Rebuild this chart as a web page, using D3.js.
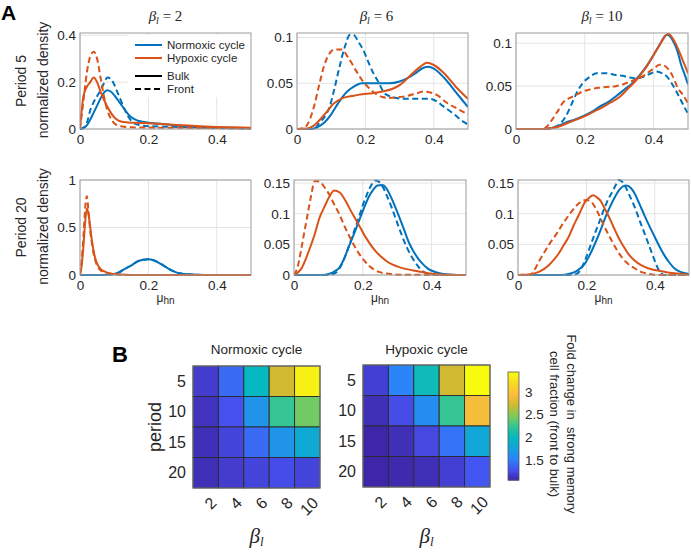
<!DOCTYPE html>
<html><head><meta charset="utf-8">
<script src="https://cdn.jsdelivr.net/npm/d3@7"></script>
<style>body{margin:0;background:#fff}svg{display:block}</style>
</head><body><svg id="c" width="691" height="554"></svg>
<script>
// ---------------- DATA ----------------
const betaTitles = ["2", "6", "10"];
const periodLabels = ["Period 5", "Period 20"];
const xTicks = [0, 0.2, 0.4];
const xMax = 0.5;
const yLimTop = [0.41, 0.105, 0.112];
const yLimBottom = [1.0, 0.155, 0.155];
const yTicksTop = [[0, 0.2, 0.4], [0, 0.05, 0.1], [0, 0.05, 0.1]];
const yTicksBottom = [[0, 0.5, 1], [0, 0.05, 0.1, 0.15], [0, 0.05, 0.1, 0.15]];
const legendLabels = ["Normoxic cycle", "Hypoxic cycle", "Bulk", "Front"];

// Period 5, beta 2  (nb = normoxic bulk, nf = normoxic front, hb = hypoxic bulk, hf = hypoxic front)
const nbP5B2 = [[0,0],[0.01,0.004],[0.02,0.015],[0.03,0.04],[0.04,0.07],[0.05,0.1],[0.06,0.13],[0.07,0.155],[0.08,0.166],[0.09,0.16],[0.1,0.145],[0.11,0.125],[0.12,0.105],[0.13,0.085],[0.14,0.065],[0.15,0.05],[0.17,0.035],[0.2,0.027],[0.25,0.02],[0.3,0.013],[0.35,0.009],[0.4,0.006],[0.45,0.004],[0.5,0.003]];
const nfP5B2 = [[0,0],[0.01,0.005],[0.02,0.025],[0.03,0.08],[0.04,0.115],[0.05,0.14],[0.06,0.165],[0.07,0.195],[0.08,0.22],[0.09,0.215],[0.1,0.19],[0.11,0.155],[0.12,0.12],[0.13,0.085],[0.14,0.055],[0.15,0.035],[0.17,0.018],[0.2,0.012],[0.25,0.01],[0.3,0.008],[0.35,0.006],[0.4,0.004],[0.45,0.003],[0.5,0.002]];
const hbP5B2 = [[0,0],[0.005,0.08],[0.01,0.14],[0.02,0.18],[0.03,0.2],[0.04,0.22],[0.05,0.2],[0.06,0.16],[0.07,0.125],[0.08,0.095],[0.09,0.07],[0.1,0.05],[0.11,0.038],[0.12,0.032],[0.14,0.028],[0.17,0.026],[0.2,0.025],[0.25,0.02],[0.3,0.016],[0.35,0.012],[0.4,0.009],[0.45,0.007],[0.5,0.005]];
const hfP5B2 = [[0,0],[0.01,0.12],[0.02,0.24],[0.03,0.31],[0.04,0.33],[0.05,0.3],[0.06,0.22],[0.07,0.14],[0.08,0.08],[0.09,0.045],[0.1,0.025],[0.12,0.012],[0.15,0.007],[0.2,0.006],[0.3,0.005],[0.4,0.004],[0.5,0.003]];

// Period 5, beta 6
const nbP5B6 = [[0,0],[0.04,0],[0.06,0.002],[0.08,0.007],[0.1,0.016],[0.12,0.028],[0.135,0.036],[0.15,0.042],[0.165,0.046],[0.19,0.05],[0.22,0.05],[0.25,0.05],[0.27,0.05],[0.3,0.052],[0.33,0.057],[0.35,0.062],[0.37,0.067],[0.385,0.068],[0.4,0.066],[0.43,0.056],[0.465,0.04],[0.5,0.024]];
const nfP5B6 = [[0,0],[0.05,0],[0.066,0.007],[0.08,0.013],[0.096,0.025],[0.11,0.045],[0.125,0.069],[0.14,0.09],[0.155,0.103],[0.165,0.103],[0.18,0.095],[0.193,0.087],[0.21,0.072],[0.222,0.062],[0.24,0.05],[0.252,0.041],[0.27,0.036],[0.29,0.034],[0.32,0.033],[0.35,0.033],[0.39,0.033],[0.41,0.03],[0.427,0.025],[0.46,0.016],[0.486,0.008],[0.5,0.005]];
const hbP5B6 = [[0,0],[0.03,0.0005],[0.05,0.004],[0.076,0.014],[0.09,0.02],[0.105,0.027],[0.12,0.031],[0.135,0.034],[0.16,0.036],[0.19,0.038],[0.22,0.039],[0.25,0.041],[0.28,0.044],[0.3,0.048],[0.33,0.058],[0.36,0.068],[0.38,0.0725],[0.4,0.07],[0.43,0.061],[0.465,0.046],[0.5,0.033]];
const hfP5B6 = [[0,0],[0.02,0.001],[0.037,0.01],[0.05,0.025],[0.066,0.05],[0.08,0.07],[0.096,0.083],[0.11,0.087],[0.13,0.087],[0.15,0.078],[0.174,0.063],[0.193,0.052],[0.21,0.045],[0.232,0.038],[0.25,0.035],[0.27,0.034],[0.3,0.035],[0.32,0.036],[0.35,0.039],[0.37,0.041],[0.39,0.04],[0.41,0.037],[0.437,0.029],[0.47,0.022],[0.5,0.016]];

// Period 5, beta 10
const nbP5B10 = [[0,0],[0.07,0],[0.1,0.001],[0.125,0.004],[0.147,0.008],[0.17,0.011],[0.195,0.015],[0.22,0.02],[0.243,0.026],[0.27,0.032],[0.29,0.038],[0.315,0.046],[0.34,0.054],[0.36,0.063],[0.379,0.073],[0.395,0.083],[0.408,0.092],[0.42,0.1],[0.432,0.108],[0.44,0.11],[0.45,0.107],[0.46,0.1],[0.47,0.09],[0.48,0.075],[0.49,0.064],[0.5,0.052]];
const nfP5B10 = [[0,0],[0.09,0],[0.11,0.002],[0.128,0.006],[0.145,0.015],[0.166,0.033],[0.18,0.045],[0.195,0.054],[0.215,0.061],[0.234,0.065],[0.263,0.065],[0.29,0.063],[0.31,0.062],[0.33,0.06],[0.35,0.059],[0.37,0.061],[0.388,0.064],[0.408,0.067],[0.425,0.065],[0.437,0.062],[0.45,0.055],[0.466,0.044],[0.48,0.033],[0.49,0.025],[0.5,0.018]];
const hbP5B10 = [[0,0],[0.07,0],[0.1,0.001],[0.125,0.003],[0.15,0.007],[0.175,0.011],[0.2,0.015],[0.225,0.02],[0.25,0.025],[0.275,0.031],[0.3,0.037],[0.325,0.047],[0.35,0.057],[0.365,0.065],[0.38,0.073],[0.395,0.083],[0.41,0.093],[0.425,0.103],[0.435,0.109],[0.443,0.111],[0.455,0.106],[0.465,0.099],[0.48,0.085],[0.49,0.075],[0.5,0.065]];
const hfP5B10 = [[0,0],[0.08,0],[0.09,0.003],[0.1,0.008],[0.12,0.02],[0.137,0.031],[0.155,0.036],[0.176,0.04],[0.195,0.044],[0.214,0.046],[0.24,0.048],[0.263,0.049],[0.29,0.05],[0.31,0.052],[0.33,0.055],[0.35,0.058],[0.37,0.062],[0.388,0.067],[0.405,0.072],[0.417,0.075],[0.43,0.074],[0.44,0.071],[0.455,0.062],[0.47,0.048],[0.485,0.04],[0.5,0.03]];

// Period 20, beta 2
const nbP20B2 = [[0,0],[0.05,0],[0.08,0.002],[0.1,0.01],[0.115,0.03],[0.13,0.063],[0.15,0.1],[0.169,0.145],[0.185,0.16],[0.2,0.165],[0.215,0.155],[0.237,0.115],[0.255,0.075],[0.276,0.035],[0.29,0.018],[0.305,0.01],[0.33,0.004],[0.36,0.001],[0.4,0],[0.5,0]];
const nfP20B2 = [[0,0],[0.05,0],[0.08,0.002],[0.1,0.01],[0.115,0.03],[0.13,0.062],[0.15,0.1],[0.169,0.144],[0.185,0.16],[0.2,0.165],[0.215,0.155],[0.237,0.116],[0.255,0.074],[0.276,0.035],[0.29,0.018],[0.305,0.01],[0.33,0.004],[0.36,0.001],[0.4,0],[0.5,0]];
const hbP20B2 = [[0,0],[0.005,0.1],[0.01,0.3],[0.015,0.55],[0.02,0.7],[0.025,0.64],[0.03,0.5],[0.035,0.36],[0.04,0.25],[0.045,0.17],[0.05,0.12],[0.06,0.065],[0.07,0.04],[0.08,0.025],[0.1,0.01],[0.12,0.004],[0.15,0.001],[0.2,0],[0.5,0]];
const hfP20B2 = [[0,0],[0.005,0.15],[0.01,0.4],[0.015,0.7],[0.02,0.83],[0.025,0.66],[0.03,0.46],[0.035,0.33],[0.04,0.22],[0.045,0.15],[0.05,0.1],[0.06,0.05],[0.07,0.03],[0.08,0.02],[0.1,0.006],[0.12,0.002],[0.15,0],[0.5,0]];

// Period 20, beta 6
const nbP20B6 = [[0,0],[0.08,0],[0.103,0.002],[0.118,0.006],[0.132,0.012],[0.146,0.027],[0.16,0.047],[0.175,0.068],[0.19,0.09],[0.204,0.11],[0.218,0.128],[0.23,0.139],[0.242,0.146],[0.257,0.147],[0.268,0.142],[0.276,0.134],[0.29,0.117],[0.305,0.096],[0.32,0.074],[0.334,0.053],[0.348,0.038],[0.362,0.026],[0.376,0.017],[0.39,0.01],[0.41,0.005],[0.43,0.002],[0.46,0.0005],[0.5,0]];
const nfP20B6 = [[0,0],[0.1,0],[0.122,0.004],[0.141,0.02],[0.155,0.04],[0.17,0.064],[0.185,0.088],[0.199,0.112],[0.211,0.13],[0.223,0.145],[0.237,0.154],[0.247,0.152],[0.257,0.145],[0.271,0.128],[0.286,0.107],[0.3,0.085],[0.314,0.064],[0.328,0.045],[0.343,0.029],[0.357,0.017],[0.372,0.007],[0.39,0.002],[0.42,0],[0.5,0]];
const hbP20B6 = [[0,0],[0.021,0.01],[0.045,0.042],[0.06,0.066],[0.074,0.093],[0.09,0.113],[0.103,0.128],[0.117,0.138],[0.132,0.135],[0.151,0.12],[0.165,0.105],[0.18,0.09],[0.195,0.075],[0.209,0.061],[0.237,0.039],[0.255,0.029],[0.276,0.02],[0.3,0.014],[0.324,0.01],[0.36,0.006],[0.39,0.003],[0.43,0.001],[0.5,0]];
const hfP20B6 = [[0,0],[0.01,0.012],[0.021,0.042],[0.03,0.07],[0.04,0.1],[0.05,0.13],[0.06,0.153],[0.07,0.153],[0.079,0.15],[0.09,0.142],[0.103,0.131],[0.117,0.115],[0.132,0.099],[0.145,0.082],[0.16,0.064],[0.175,0.048],[0.19,0.034],[0.205,0.023],[0.218,0.015],[0.232,0.009],[0.247,0.005],[0.276,0.002],[0.31,0.0005],[0.5,0]];

// Period 20, beta 10
const nbP20B10 = [[0,0],[0.128,0],[0.15,0.002],[0.167,0.005],[0.18,0.01],[0.196,0.019],[0.21,0.033],[0.225,0.051],[0.24,0.071],[0.254,0.092],[0.268,0.11],[0.283,0.127],[0.295,0.138],[0.305,0.144],[0.317,0.146],[0.33,0.142],[0.341,0.133],[0.355,0.116],[0.37,0.097],[0.385,0.079],[0.4,0.062],[0.414,0.046],[0.428,0.032],[0.443,0.02],[0.457,0.011],[0.475,0.005],[0.496,0.002],[0.5,0.001]];
const nfP20B10 = [[0,0],[0.16,0],[0.175,0.003],[0.185,0.01],[0.196,0.024],[0.21,0.045],[0.225,0.068],[0.24,0.09],[0.254,0.111],[0.266,0.126],[0.278,0.138],[0.287,0.148],[0.295,0.155],[0.305,0.152],[0.312,0.146],[0.326,0.13],[0.341,0.111],[0.355,0.09],[0.37,0.068],[0.382,0.05],[0.394,0.032],[0.405,0.016],[0.418,0.003],[0.43,0],[0.5,0]];
const hbP20B10 = [[0,0],[0.032,0.001],[0.061,0.005],[0.09,0.016],[0.105,0.025],[0.119,0.035],[0.133,0.048],[0.148,0.062],[0.162,0.08],[0.177,0.097],[0.196,0.119],[0.208,0.126],[0.22,0.13],[0.23,0.127],[0.24,0.122],[0.252,0.11],[0.264,0.097],[0.278,0.08],[0.293,0.062],[0.307,0.048],[0.322,0.035],[0.34,0.024],[0.36,0.016],[0.38,0.011],[0.4,0.008],[0.43,0.005],[0.457,0.003],[0.5,0.001]];
const hfP20B10 = [[0,0],[0.037,0.001],[0.05,0.01],[0.061,0.022],[0.075,0.035],[0.09,0.049],[0.11,0.065],[0.128,0.081],[0.148,0.097],[0.167,0.111],[0.18,0.118],[0.191,0.122],[0.203,0.122],[0.215,0.119],[0.23,0.106],[0.244,0.089],[0.258,0.073],[0.273,0.057],[0.288,0.042],[0.302,0.03],[0.32,0.019],[0.341,0.011],[0.36,0.005],[0.38,0.002],[0.41,0],[0.5,0]];

// Heatmaps (fold change, rows = period, cols = beta)
const hmPeriods = [5, 10, 15, 20];
const hmBetas = [2, 4, 6, 8, 10];
const normoxicFold = [
  [1.18, 1.42, 2.01, 2.73, 3.37],
  [1.13, 1.30, 1.66, 2.25, 2.44],
  [1.11, 1.23, 1.42, 1.66, 1.85],
  [1.11, 1.18, 1.23, 1.27, 1.23]];
const hypoxicFold = [
  [1.20, 1.54, 2.06, 2.73, 3.44],
  [1.11, 1.27, 1.61, 2.25, 2.92],
  [1.06, 1.11, 1.25, 1.46, 1.82],
  [1.06, 1.08, 1.11, 1.20, 1.32]];
const cbTicks = [1.5, 2, 2.5, 3];

// ---------------- DRAW ----------------
const SANS = '"Liberation Sans", Arial, Helvetica, sans-serif';
const SERIF = '"Liberation Serif", "Times New Roman", serif';
const BLUE = "#0072BD", ORANGE = "#D95319", TXT = "#262626";
const svg = d3.select("#c");
svg.append("rect").attr("width", 691).attr("height", 554).attr("fill", "#fff");

const colBoxes = [[[80,251],[297,468],[516,688]], [[80,251],[294,466],[518,689]]];
const rowBoxes = [[33,129],[180,275]];
const seriesStyle = [
  {c: BLUE, dash: null}, {c: BLUE, dash: "6,3.5"},
  {c: ORANGE, dash: null}, {c: ORANGE, dash: "6,3.5"}];

const panels = [
  {row:0, col:0, yMax:yLimTop[0], yTicks:yTicksTop[0], series:[nbP5B2, nfP5B2, hbP5B2, hfP5B2]},
  {row:0, col:1, yMax:yLimTop[1], yTicks:yTicksTop[1], series:[nbP5B6, nfP5B6, hbP5B6, hfP5B6]},
  {row:0, col:2, yMax:yLimTop[2], yTicks:yTicksTop[2], series:[nbP5B10, nfP5B10, hbP5B10, hfP5B10]},
  {row:1, col:0, yMax:yLimBottom[0], yTicks:yTicksBottom[0], series:[nbP20B2, nfP20B2, hbP20B2, hfP20B2]},
  {row:1, col:1, yMax:yLimBottom[1], yTicks:yTicksBottom[1], series:[nbP20B6, nfP20B6, hbP20B6, hfP20B6]},
  {row:1, col:2, yMax:yLimBottom[2], yTicks:yTicksBottom[2], series:[nbP20B10, nfP20B10, hbP20B10, hfP20B10]}];

const fmt = d => String(d);

panels.forEach((p, i) => {
  const [x0, x1] = colBoxes[p.row][p.col];
  const [y0, y1] = rowBoxes[p.row];
  const x = d3.scaleLinear().domain([0, xMax]).range([x0, x1]);
  const y = d3.scaleLinear().domain([0, p.yMax]).range([y1, y0]);
  const g = svg.append("g");
  g.selectAll(null).data(xTicks).join("line")
    .attr("x1", d => x(d)).attr("x2", d => x(d)).attr("y1", y0).attr("y2", y1)
    .attr("stroke", "#e4e4e4").attr("stroke-width", 1);
  g.selectAll(null).data(p.yTicks).join("line")
    .attr("x1", x0).attr("x2", x1).attr("y1", d => y(d)).attr("y2", d => y(d))
    .attr("stroke", "#e4e4e4").attr("stroke-width", 1);

  const cid = "clip" + i;
  svg.append("clipPath").attr("id", cid).append("rect")
    .attr("x", x0).attr("y", y0 - 1).attr("width", x1 - x0).attr("height", y1 - y0 + 2);

  const line = d3.line().x(d => x(d[0])).y(d => y(d[1])).curve(d3.curveMonotoneX);
  const lg = g.append("g").attr("clip-path", `url(#${cid})`);
  p.series.forEach((s, k) => {
    lg.append("path").attr("d", line(s)).attr("fill", "none")
      .attr("stroke", seriesStyle[k].c).attr("stroke-width", 2)
      .attr("stroke-dasharray", seriesStyle[k].dash)
      .attr("stroke-linejoin", "round");
  });

  g.append("rect").attr("x", x0).attr("y", y0).attr("width", x1 - x0).attr("height", y1 - y0)
    .attr("fill", "none").attr("stroke", "#9c9c9c").attr("stroke-width", 1);

  const ax = g.append("g").attr("transform", `translate(0,${y1})`)
    .call(d3.axisBottom(x).tickValues(xTicks).tickFormat(fmt).tickSize(0).tickPadding(5));
  ax.select(".domain").remove();
  ax.selectAll("text").attr("font-family", SANS).attr("font-size", 13.5).attr("fill", TXT);
  const ay = g.append("g").attr("transform", `translate(${x0},0)`)
    .call(d3.axisLeft(y).tickValues(p.yTicks).tickFormat(fmt).tickSize(0).tickPadding(4));
  ay.select(".domain").remove();
  ay.selectAll("text").attr("font-family", SANS).attr("font-size", 13.5).attr("fill", TXT);

  if (p.row === 0) {
    const t = svg.append("text").attr("x", (x0 + x1) / 2 - (p.col === 1 ? 6 : 0)).attr("y", 21)
      .attr("text-anchor", "middle").attr("font-family", SERIF).attr("font-size", 15).attr("fill", TXT);
    t.append("tspan").attr("font-style", "italic").text("β");
    t.append("tspan").attr("font-style", "italic").attr("font-size", 10).attr("dy", 3).text("l");
    t.append("tspan").attr("dy", -3).text(" = " + betaTitles[p.col]);
  } else {
    const t = svg.append("text").attr("x", (x0 + x1) / 2).attr("y", 302)
      .attr("text-anchor", "middle").attr("font-family", SANS).attr("font-size", 12).attr("fill", TXT);
    t.append("tspan").text("μ");
    t.append("tspan").attr("font-size", 10).attr("dy", 2).text("hn");
  }
  if (p.col === 0) {
    const cy = (y0 + y1) / 2;
    svg.append("text").attr("transform", `translate(26,${cy}) rotate(-90)`)
      .attr("text-anchor", "middle").attr("font-family", SANS).attr("font-size", 14).attr("fill", TXT)
      .text(periodLabels[p.row]);
    svg.append("text").attr("transform", `translate(48,${cy - 1}) rotate(-90)`)
      .attr("text-anchor", "middle").attr("font-family", SANS).attr("font-size", 14).attr("fill", TXT)
      .text("normalized density");
  }
});

// Legend in first panel
{
  const lg = svg.append("g");
  lg.append("rect").attr("x", 128).attr("y", 35).attr("width", 122).attr("height", 62).attr("fill", "#fff");
  const ys = [45, 58, 76, 89];
  const cols = [BLUE, ORANGE, "#000", "#000"];
  const dashes = [null, null, null, "6,3.5"];
  legendLabels.forEach((lab, k) => {
    lg.append("line").attr("x1", 135).attr("x2", 162).attr("y1", ys[k]).attr("y2", ys[k])
      .attr("stroke", cols[k]).attr("stroke-width", 2).attr("stroke-dasharray", dashes[k]);
    lg.append("text").attr("x", 167).attr("y", ys[k] + 4).attr("font-family", SANS)
      .attr("font-size", 11.5).attr("fill", TXT).text(lab);
  });
}

// Panel letters
svg.append("text").attr("x", 1).attr("y", 20).attr("font-family", SANS).attr("font-weight", "bold")
  .attr("font-size", 21).attr("fill", "#000").text("A");
svg.append("text").attr("x", 112).attr("y", 362).attr("font-family", SANS).attr("font-weight", "bold")
  .attr("font-size", 22).attr("fill", "#000").text("B");

// ---------------- HEATMAPS ----------------
const parula = ["#3e26a8","#4751f0","#2b83f8","#14a3dc","#05b8c1","#35c594","#80cb58","#d0ba31","#fdbe3c","#f5da26","#f9fb0e"];
const allVals = normoxicFold.flat().concat(hypoxicFold.flat());
const [cmin, cmax] = d3.extent(allVals);
const color = d3.scaleLinear()
  .domain(parula.map((_, i) => cmin + (cmax - cmin) * i / (parula.length - 1)))
  .range(parula).interpolate(d3.interpolateRgb).clamp(true);

const hmBoxes = [
  {title: "Normoxic cycle", data: normoxicFold, x: [193, 320], y: [366, 488]},
  {title: "Hypoxic cycle", data: hypoxicFold, x: [363, 490], y: [365, 487]}];

hmBoxes.forEach(h => {
  const xb = d3.scaleBand().domain(hmBetas).range(h.x);
  const yb = d3.scaleBand().domain(hmPeriods).range(h.y);
  const g = svg.append("g");
  const cells = [];
  h.data.forEach((row, r) => row.forEach((v, c) => cells.push({p: hmPeriods[r], b: hmBetas[c], v})));
  g.selectAll(null).data(cells).join("rect")
    .attr("x", d => xb(d.b)).attr("y", d => yb(d.p))
    .attr("width", xb.bandwidth()).attr("height", yb.bandwidth())
    .attr("fill", d => color(d.v)).attr("stroke", "#2b2b2b").attr("stroke-width", 0.9);
  g.append("rect").attr("x", h.x[0]).attr("y", h.y[0]).attr("width", h.x[1] - h.x[0]).attr("height", h.y[1] - h.y[0])
    .attr("fill", "none").attr("stroke", "#777").attr("stroke-width", 1);
  svg.append("text").attr("x", (h.x[0] + h.x[1]) / 2).attr("y", 354).attr("text-anchor", "middle")
    .attr("font-family", SANS).attr("font-size", 13.5).attr("fill", TXT).text(h.title);
  g.selectAll(null).data(hmPeriods).join("text")
    .attr("x", h.x[0] - 7).attr("y", d => yb(d) + yb.bandwidth() / 2).attr("dy", "0.35em")
    .attr("text-anchor", "end").attr("font-family", SANS).attr("font-size", 16).attr("fill", TXT)
    .text(d => d);
  g.selectAll(null).data(hmBetas).join("text")
    .attr("transform", d => `translate(${xb(d) + xb.bandwidth() / 2 + 8},${h.y[1] + 12}) rotate(-45)`)
    .attr("dy", "0.35em").attr("text-anchor", "end").attr("font-family", SANS).attr("font-size", 16)
    .attr("fill", TXT).text(d => d);
  const bt = svg.append("text").attr("x", (h.x[0] + h.x[1]) / 2).attr("y", 543).attr("text-anchor", "middle")
    .attr("font-family", SERIF).attr("font-size", 21).attr("font-style", "italic").attr("fill", TXT);
  bt.append("tspan").text("β");
  bt.append("tspan").attr("font-size", 13).attr("dy", 3).text("l");
});

svg.append("text").attr("transform", "translate(161,427) rotate(-90)").attr("text-anchor", "middle")
  .attr("font-family", SANS).attr("font-size", 18).attr("fill", TXT).text("period");

// Colorbar
{
  const cb = {x0: 508, x1: 519, y0: 372, y1: 480};
  const cy = d3.scaleLinear().domain([cmin, cmax]).range([cb.y1, cb.y0]);
  const steps = d3.range(0, 108);
  const g = svg.append("g");
  g.selectAll(null).data(steps).join("rect")
    .attr("x", cb.x0).attr("width", cb.x1 - cb.x0)
    .attr("y", d => cb.y1 - (d + 1) * (cb.y1 - cb.y0) / steps.length)
    .attr("height", (cb.y1 - cb.y0) / steps.length + 0.6)
    .attr("fill", d => color(cy.invert(cb.y1 - (d + 0.5) * (cb.y1 - cb.y0) / steps.length)));
  g.append("rect").attr("x", cb.x0).attr("y", cb.y0).attr("width", cb.x1 - cb.x0).attr("height", cb.y1 - cb.y0)
    .attr("fill", "none").attr("stroke", "#555").attr("stroke-width", 0.8);
  const a = g.append("g").attr("transform", `translate(${cb.x1},0)`)
    .call(d3.axisRight(cy).tickValues(cbTicks).tickFormat(fmt).tickSize(0).tickPadding(6));
  a.select(".domain").remove();
  a.selectAll("text").attr("font-family", SANS).attr("font-size", 13.5).attr("fill", TXT);
  svg.append("text").attr("transform", "translate(567,424) rotate(90)").attr("text-anchor", "middle")
    .attr("font-family", SANS).attr("font-size", 13).attr("fill", TXT).style("white-space", "pre")
    .text("Fold change in  strong memory");
  svg.append("text").attr("transform", "translate(550,424) rotate(90)").attr("text-anchor", "middle")
    .attr("font-family", SANS).attr("font-size", 13).attr("fill", TXT)
    .text("cell fraction (front to bulk)");
}
</script>
</body></html>
